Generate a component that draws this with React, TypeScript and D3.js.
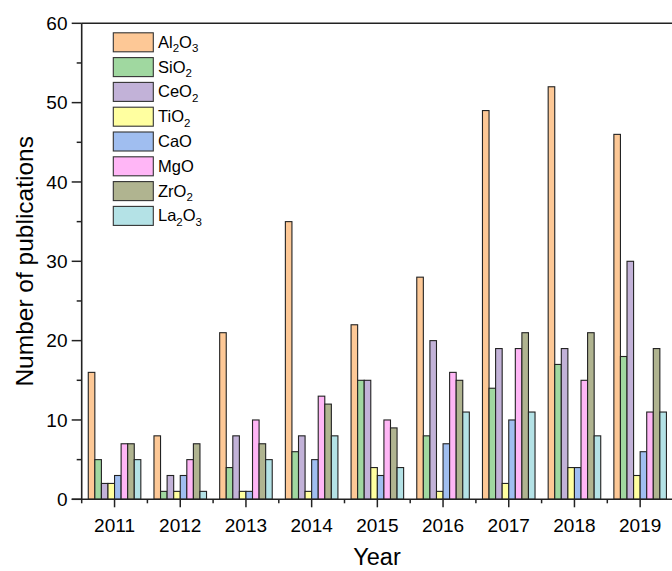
import React from "react";
import * as d3 from "d3";

const years = ["2011", "2012", "2013", "2014", "2015", "2016", "2017", "2018", "2019"];
const seriesNames = ["Al2O3", "SiO2", "CeO2", "TiO2", "CaO", "MgO", "ZrO2", "La2O3"];
const al2o3 = [16, 8, 21, 35, 22, 28, 49, 52, 46];
const sio2 = [5, 1, 4, 6, 15, 8, 14, 17, 18];
const ceo2 = [2, 3, 8, 8, 15, 20, 19, 19, 30];
const tio2 = [2, 1, 1, 1, 4, 1, 2, 4, 3];
const cao = [3, 3, 1, 5, 3, 7, 10, 4, 6];
const mgo = [7, 5, 10, 13, 10, 16, 19, 15, 11];
const zro2 = [7, 7, 7, 12, 9, 15, 21, 21, 19];
const la2o3 = [5, 1, 5, 8, 4, 11, 11, 8, 11];
const seriesValues = [al2o3, sio2, ceo2, tio2, cao, mgo, zro2, la2o3];
const colors = ["#FDC896", "#A0D8A0", "#C2B2D8", "#FFFFA0", "#A0BEF0", "#FFB6F6", "#B0B490", "#B4E2E6"];
const yTicks = [0, 10, 20, 30, 40, 50, 60];
const yMinor = [5, 15, 25, 35, 45, 55];

// legend label parts: [text, isSub]
const legendParts: [string, boolean][][] = [
  [["Al", false], ["2", true], ["O", false], ["3", true]],
  [["SiO", false], ["2", true]],
  [["CeO", false], ["2", true]],
  [["TiO", false], ["2", true]],
  [["CaO", false]],
  [["MgO", false]],
  [["ZrO", false], ["2", true]],
  [["La", false], ["2", true], ["O", false], ["3", true]],
];

export default function App() {
  const W = 672, H = 571;
  const left = 81.7, top = 23.3, bottom = 499.3;
  const bandW = 65.7;
  const x = d3.scaleBand<string>().domain(years).range([left, left + bandW * years.length]).paddingInner(0).paddingOuter(0);
  const inner = d3.scaleBand<string>().domain(seriesNames).range([x.bandwidth() * 0.1, x.bandwidth() * 0.9]).padding(0);
  const y = d3.scaleLinear().domain([0, 60]).range([bottom, top]);
  const font = "'Liberation Sans', Arial, sans-serif";

  return (
    <svg width={W} height={H} style={{ position: "absolute", left: 0, top: 0, background: "#fff" }} fontFamily={font}>
      {/* bars */}
      {years.map((yr, i) => (
        <g key={yr} transform={`translate(${x(yr)},0)`}>
          {seriesNames.map((s, k) => {
            const v = seriesValues[k][i];
            return (
              <rect key={s} x={inner(s)} y={y(v)} width={inner.bandwidth()} height={y(0) - y(v)}
                fill={colors[k]} stroke="#222" strokeWidth={1.1} />
            );
          })}
        </g>
      ))}
      {/* frame top */}
      <line x1={left} x2={W} y1={top} y2={top} stroke="#222" strokeWidth={1.6} />
      {/* y axis */}
      <line x1={left} x2={left} y1={top} y2={bottom} stroke="#222" strokeWidth={1.6} />
      {yTicks.map((t) => (
        <g key={t}>
          <line x1={left - 10} x2={left} y1={y(t)} y2={y(t)} stroke="#222" strokeWidth={1.5} />
          <text x={67.5} y={y(t)} dy="0.36em" textAnchor="end" fontSize={19}>{t}</text>
        </g>
      ))}
      {yMinor.map((t) => (
        <line key={t} x1={left - 5} x2={left} y1={y(t)} y2={y(t)} stroke="#222" strokeWidth={1.5} />
      ))}
      {/* x axis */}
      <line x1={left - 10} x2={W} y1={bottom} y2={bottom} stroke="#222" strokeWidth={1.6} />
      {years.map((yr) => (
        <g key={yr}>
          <line x1={x(yr)! + x.bandwidth() / 2} x2={x(yr)! + x.bandwidth() / 2} y1={bottom} y2={bottom + 8} stroke="#222" strokeWidth={1.5} />
          <line x1={x(yr)!} x2={x(yr)!} y1={bottom} y2={bottom + 4} stroke="#222" strokeWidth={1.5} />
          <text x={x(yr)! + x.bandwidth() / 2} y={531.5} textAnchor="middle" fontSize={19}>{yr}</text>
        </g>
      ))}
      {/* titles */}
      <text x={377} y={565} textAnchor="middle" fontSize={23.5}>Year</text>
      <text transform={`translate(33,${(top + bottom) / 2}) rotate(-90)`} textAnchor="middle" fontSize={24.5}>Number of publications</text>
      {/* legend */}
      {seriesNames.map((s, k) => {
        const cy = 42.3 + k * 24.8;
        return (
          <g key={s}>
            <rect x={113.3} y={cy - 9.5} width={40} height={19} fill={colors[k]} stroke="#333" strokeWidth={1.1} />
            <text x={158} y={cy + 5.5} fontSize={16.5}>
              {legendParts[k].map(([t, sub], j) =>
                sub ? (
                  <tspan key={j} fontSize={11.5} dy={4.5}>{t}</tspan>
                ) : (
                  <tspan key={j} dy={j > 0 && legendParts[k][j - 1][1] ? -4.5 : 0}>{t}</tspan>
                )
              )}
            </text>
          </g>
        );
      })}
    </svg>
  );
}
